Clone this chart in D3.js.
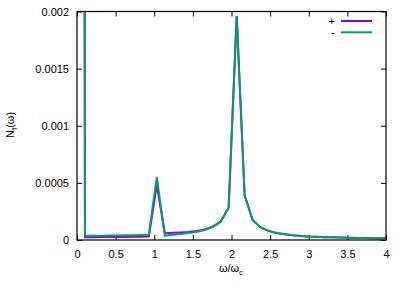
<!DOCTYPE html>
<html>
  <head>
    <meta charset="utf-8">
    <title>D3 Graphic</title>
    <script src="https://cdn.jsdelivr.net/npm/d3@7"></script>
    <style type="text/css">
      body { margin: 0; background: #fff; }
      text { font-family: "Liberation Sans", Arial, sans-serif; font-size: 11px; fill: #000; }
    </style>
  </head>
  <body>
    <script>
    // omega / omega_c sample points
    var omega = [0.000, 0.103, 0.207, 0.310, 0.413, 0.517, 0.620, 0.723, 0.827, 0.930,
                 1.033, 1.137, 1.240, 1.343, 1.447, 1.550, 1.653, 1.757, 1.860, 1.963,
                 2.067, 2.170, 2.273, 2.377, 2.480, 2.583, 2.687, 2.790, 2.893, 2.997,
                 3.100, 3.203, 3.307, 3.410, 3.513, 3.617, 3.720, 3.823, 3.927, 4.030];

    // "+" series
    var plus = [0.05, 0.000025, 0.000025, 0.000026, 0.000026, 0.000027, 0.000027, 0.000028, 0.000029, 0.000031,
                0.00048, 0.000060, 0.000063, 0.000066, 0.000070, 0.000078, 0.000092, 0.000117, 0.00016, 0.000285,
                0.00196, 0.00039, 0.000175, 0.00011, 0.000080, 0.000062, 0.000050, 0.000042, 0.000036, 0.000031,
                0.000028, 0.000025, 0.000023, 0.000021, 0.000019, 0.000018, 0.000017, 0.000016, 0.000015, 0.000014];

    // "-" series
    var minus = [0.05, 0.000037, 0.000037, 0.000038, 0.000039, 0.000040, 0.000041, 0.000042, 0.000044, 0.000046,
                 0.00055, 0.000037, 0.000045, 0.000053, 0.000062, 0.000073, 0.000088, 0.000115, 0.00016, 0.000285,
                 0.00196, 0.00039, 0.000175, 0.00011, 0.000080, 0.000062, 0.000050, 0.000042, 0.000036, 0.000031,
                 0.000028, 0.000025, 0.000023, 0.000021, 0.000019, 0.000018, 0.000017, 0.000016, 0.000015, 0.000014];

    var xTicks = [0, 0.5, 1, 1.5, 2, 2.5, 3, 3.5, 4];
    var xTickLabels = ["0", "0.5", "1", "1.5", "2", "2.5", "3", "3.5", "4"];
    var yTicks = [0, 0.0005, 0.001, 0.0015, 0.002];
    var yTickLabels = ["0", "0.0005", "0.001", "0.0015", "0.002"];

    var width = 412, height = 289;
    var margin = {top: 11.5, right: 26, bottom: 49, left: 77};

    var svg = d3.select("body").append("svg")
        .attr("width", width)
        .attr("height", height);

    var xScale = d3.scaleLinear().domain([0, 4]).range([margin.left, width - margin.right]);
    var yScale = d3.scaleLinear().domain([0, 0.002]).range([height - margin.bottom, margin.top]);

    // clip for the data lines
    svg.append("clipPath").attr("id", "plotclip")
      .append("rect")
        .attr("x", xScale(0)).attr("y", yScale(0.002))
        .attr("width", xScale(4) - xScale(0))
        .attr("height", yScale(0) - yScale(0.002));

    // axes (ticks inside, mirrored)
    var tickLen = 5;
    var xAxis = svg.append("g")
        .attr("transform", "translate(0," + yScale(0) + ")")
        .call(d3.axisBottom(xScale).tickValues(xTicks)
          .tickFormat(function(d, i) { return xTickLabels[i]; })
          .tickSizeInner(-tickLen).tickSizeOuter(0).tickPadding(10));
    svg.append("g")
        .attr("transform", "translate(0," + yScale(0.002) + ")")
        .call(d3.axisTop(xScale).tickValues(xTicks).tickFormat("")
          .tickSizeInner(-tickLen).tickSizeOuter(0));
    svg.append("g")
        .attr("transform", "translate(" + xScale(0) + ",0)")
        .call(d3.axisLeft(yScale).tickValues(yTicks)
          .tickFormat(function(d, i) { return yTickLabels[i]; })
          .tickSizeInner(-tickLen).tickSizeOuter(0).tickPadding(8));
    svg.append("g")
        .attr("transform", "translate(" + xScale(4) + ",0)")
        .call(d3.axisRight(yScale).tickValues(yTicks).tickFormat("")
          .tickSizeInner(-tickLen).tickSizeOuter(0));

    svg.selectAll(".domain").remove();
    svg.selectAll(".tick line").attr("stroke", "#000").attr("stroke-width", 1);
    svg.selectAll(".tick text").attr("font-size", 11).attr("font-family", "Liberation Sans, Arial, sans-serif").attr("fill", "#000");

    var line = d3.line()
        .x(function(d) { return xScale(d[0]); })
        .y(function(d) { return yScale(d[1]); });

    var plusData = omega.map(function(w, i) { return [w, plus[i]]; });
    var minusData = omega.map(function(w, i) { return [w, minus[i]]; });

    var g = svg.append("g").attr("clip-path", "url(#plotclip)");
    g.append("path").datum(plusData)
        .attr("d", line).attr("fill", "none")
        .attr("stroke", "#9400d3").attr("stroke-width", 2);
    g.append("path").datum(minusData)
        .attr("d", line).attr("fill", "none")
        .attr("stroke", "#009e73").attr("stroke-width", 2);

    // frame
    svg.append("rect")
        .attr("x", xScale(0)).attr("y", yScale(0.002))
        .attr("width", xScale(4) - xScale(0))
        .attr("height", yScale(0) - yScale(0.002))
        .attr("fill", "none").attr("stroke", "#000").attr("stroke-width", 1.2);

    // legend
    var legend = [["+", "#9400d3"], ["-", "#009e73"]];
    legend.forEach(function(l, i) {
      var ly = 21 + i * 11.3;
      svg.append("text").attr("x", 335).attr("y", ly + 4)
        .attr("text-anchor", "end").text(l[0]);
      svg.append("line").attr("x1", 341).attr("x2", 372)
        .attr("y1", ly).attr("y2", ly)
        .attr("stroke", l[1]).attr("stroke-width", 2);
    });

    // axis labels
    var xl = svg.append("text").attr("x", 231).attr("y", 272).attr("text-anchor", "middle");
    xl.append("tspan").text("ω/ω");
    xl.append("tspan").attr("dy", 3).attr("font-size", 8).text("c");

    var yl = svg.append("text")
        .attr("transform", "translate(14,125) rotate(-90)")
        .attr("text-anchor", "middle");
    yl.append("tspan").text("N");
    yl.append("tspan").attr("dy", 3).attr("font-size", 8).text("f");
    yl.append("tspan").attr("dy", -3).text("(ω)");
    </script>
  </body>
</html>
